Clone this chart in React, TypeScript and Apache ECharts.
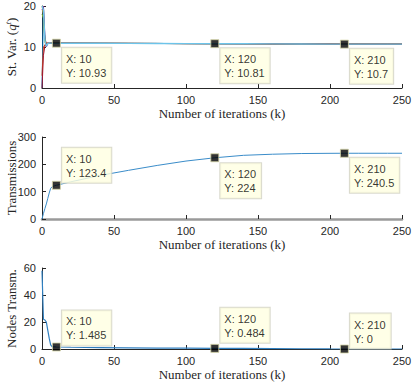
import React, { useEffect, useRef } from "react";
import * as echarts from "echarts";

// iterations
const kEarly = [0, 1, 2, 3, 4, 5, 6, 7, 8, 9, 10];
const kLate = [20, 40, 60, 80, 100, 120, 140, 160, 180, 200, 210, 220, 240, 250];

// Plot 1: state variable per node (several nodes)
const varEarly: number[][] = [
  [0, 19.8, 12, 10.3, 10.8, 11.0, 10.95, 10.94, 10.93, 10.93, 10.93],
  [3, 10, 10.5, 11.2, 10.9, 11.0, 10.95, 10.94, 10.93, 10.93, 10.93],
  [20, 18, 11, 10.6, 10.9, 11.0, 10.95, 10.94, 10.93, 10.93, 10.93],
  [19, 20, 13, 10, 10.7, 11.0, 10.95, 10.94, 10.93, 10.93, 10.93],
  [18, 17, 12, 10.5, 10.8, 11.0, 10.95, 10.94, 10.93, 10.93, 10.93],
  [0, 8, 10.2, 10.8, 11.0, 11.0, 10.95, 10.94, 10.93, 10.93, 10.93],
  [20, 19, 11.5, 10.2, 10.8, 11.0, 10.95, 10.94, 10.93, 10.93, 10.93],
];
const varLate = [10.92, 10.9, 10.88, 10.86, 10.83, 10.81, 10.79, 10.77, 10.74, 10.71, 10.7, 10.7, 10.69, 10.69];
const varColors = ["#0072BD", "#D95319", "#EDB120", "#7E2F8E", "#77AC30", "#A2142F", "#6cc4ea"];

// Plot 2: cumulative transmissions
const transEarly = [0, 20, 38, 55, 75, 95, 112, 118, 120, 122, 123.4];
const transLate = [136, 159, 178, 196, 212, 224, 233, 237, 239.5, 240.3, 240.5, 240.5, 240.5, 240.5];

// Plot 3: nodes transmitting
const nodesEarly = [58, 22, 21.5, 20, 14, 8, 3, 1.8, 1.6, 1.55, 1.485];
const nodesLate = [1.3, 1.0, 0.8, 0.7, 0.6, 0.484, 0.4, 0.3, 0.2, 0.05, 0, 0, 0, 0];

// data tips
const tipX = [10, 120, 210];
const tipVar = ["10.93", "10.81", "10.7"];
const tipTrans = ["123.4", "224", "240.5"];
const tipNodes = ["1.485", "0.484", "0"];

const kAll = [...kEarly, ...kLate];
const zip = (ys: number[]) => kAll.map((k, i) => [k, ys[i]]);

const AX = "#262626";
const SANS = "Liberation Sans, Arial, sans-serif";
const SERIF = "Liberation Serif, Times New Roman, serif";

export default function App() {
  const ref = useRef<HTMLDivElement>(null);
  useEffect(() => {
    const chart = echarts.init(ref.current!, undefined, { renderer: "svg" });
    const grids = [
      { left: 42, width: 360, top: 6, height: 82, outerBoundsMode: "none", containLabel: false },
      { left: 42, width: 360, top: 137, height: 82, outerBoundsMode: "none", containLabel: false },
      { left: 42, width: 360, top: 268, height: 81, outerBoundsMode: "none", containLabel: false },
    ];
    const xAxes = grids.map((_, i) => ({
      type: "value",
      gridIndex: i,
      min: 0,
      max: 250,
      interval: 50,
      name: "Number of iterations (k)",
      nameLocation: "middle",
      nameGap: 19,
      nameMoveOverlap: false,
      nameTextStyle: { fontFamily: SERIF, fontSize: 13, color: AX },
      axisLine: { show: true, lineStyle: { color: i === 1 ? "#9a9a9a" : AX, width: i === 1 ? 2.5 : 1 } },
      axisTick: { show: true, inside: true, length: 4, lineStyle: { color: AX } },
      axisLabel: { color: AX, fontSize: 11, fontFamily: SANS, margin: 6 },
      splitLine: { show: false },
    }));
    const yCfg = [
      { min: 0, max: 20, interval: 10 },
      { min: 0, max: 300, interval: 100 },
      { min: 0, max: 60, interval: 20 },
    ];
    const yNames = [
      "{n|St. Var. (}{i|q}{s|t}{n|)}",
      "{n|Transmissions}",
      "{n|Nodes Transm.}",
    ];
    const yAxes = yCfg.map((c, i) => ({
      type: "value",
      gridIndex: i,
      ...c,
      name: yNames[i],
      nameLocation: "middle",
      nameGap: 24,
      nameMoveOverlap: false,
      nameTextStyle: {
        rich: {
          n: { fontFamily: SERIF, fontSize: 13, color: AX },
          i: { fontFamily: SERIF, fontSize: 13, fontStyle: "italic", color: AX },
          s: { fontFamily: SERIF, fontSize: 8, fontStyle: "italic", color: AX, verticalAlign: "top", padding: [0, 0, 6, 0] },
        },
      },
      axisLine: { show: true, lineStyle: { color: AX } },
      axisTick: { show: true, inside: true, length: 4, lineStyle: { color: AX } },
      axisLabel: { color: AX, fontSize: 11, fontFamily: SANS, margin: 6 },
      splitLine: { show: false },
    }));

    const line = (data: number[][], color: string, gi: number, width = 1, z = 2) => ({
      type: "line",
      xAxisIndex: gi,
      yAxisIndex: gi,
      data,
      showSymbol: false,
      symbol: "none",
      lineStyle: { color, width },
      z,
    });

    const tipOffsets = [
      [[10, 9], [10, 9], [10, 9]],
      [[10, -33], [10, 10], [10, 9]],
      [[10, -32], [10, -36], [10, -31]],
    ];
    const tipVals = [tipVar, tipTrans, tipNodes];
    const tips = tipVals.map((vals, gi) => ({
      type: "scatter",
      xAxisIndex: gi,
      yAxisIndex: gi,
      symbol: "rect",
      symbolSize: 8,
      z: 10,
      itemStyle: { color: "#000", borderColor: "#d6d6a8", borderWidth: 1 },
      data: tipX.map((x, j) => ({
        value: [x, parseFloat(vals[j])],
        label: {
          show: true,
          position: tipOffsets[gi][j],
          align: "left",
          verticalAlign: "top",
          formatter: `X: ${x}\nY: ${vals[j]}`,
          fontFamily: SANS,
          fontSize: 11,
          lineHeight: 14,
          color: "#000",
          backgroundColor: "#FFFFE1",
          borderColor: "#d0d0c0",
          borderWidth: 1,
          padding: [4, 5, 3, 4],
        },
      })),
    }));

    const series: any[] = [];
    varEarly.forEach((e, i) => {
      const top = i === varEarly.length - 1;
      series.push(line(zip([...e, ...varLate]), varColors[i], 0, top ? 1.4 : 1, top ? 4 : 2));
    });
    series.push(line(zip([...transEarly, ...transLate]), "#3a8cc9", 1));
    series.push(line(zip([...nodesEarly, ...nodesLate]), "#2f7fc0", 2, 1.2));
    series.push(...tips);

    chart.setOption({
      animation: false,
      grid: grids,
      xAxis: xAxes,
      yAxis: yAxes,
      series,
    });
    return () => chart.dispose();
  }, []);
  return (
    <div
      ref={ref}
      style={{ position: "fixed", left: 0, top: 0, width: 415, height: 383, background: "#fff" }}
    />
  );
}
